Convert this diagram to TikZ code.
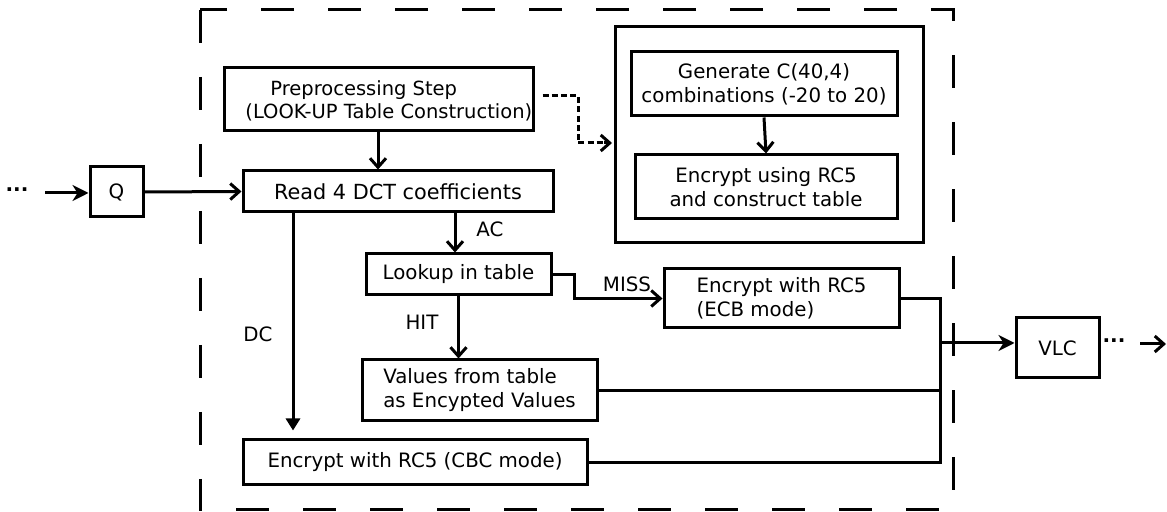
\documentclass[tikz,border=0pt]{standalone}
\usepackage{fontspec}
\setmainfont{DejaVu Sans}
\usetikzlibrary{arrows.meta}
\newcommand\bx[7]{\node[box,#6,minimum width={(#4-#2)*0.5pt},minimum height={(#5-#3)*0.5pt}] (#1) at ({(#2+#4)/2},{(#3+#5)/2}) {#7};}
\begin{document}
\begin{tikzpicture}[x=0.5pt,y=-0.5pt,
  lw/.style={line width=1.5pt},
  box/.style={draw,lw,inner sep=0pt,font=\fontsize{9.9}{12}\selectfont},
  txt/.style={inner sep=0pt,font=\fontsize{9.9}{12}\selectfont},
  openarr/.style={lw,-{Straight Barb[length=4.5pt,width=8pt,line width=1.5pt]}},
  fillarr/.style={lw,-{Stealth[length=8pt,width=8pt,inset=2.5pt]}},
  triarr/.style={lw,-{Triangle[length=6pt,width=7pt]}},
  outer/.style={lw,dash pattern=on 16.5pt off 17pt},
  dotline/.style={lw,dash pattern=on 3pt off 1.6pt}]
\useasboundingbox (0,0) rectangle (1167,512);
% outer dashed frame
\draw[outer] (200,10) rectangle (953,510);
% boxes
\bx{pre}{224}{68}{533}{131}{}{}
\node[txt,align=left,anchor=west,font=\fontsize{9.75}{11.5}\selectfont] (pretext) at (245,101) {\hspace*{12.5pt}Preprocessing Step\\(LOOK-UP Table Construction)};
\bx{big}{615}{27}{923}{243}{}{}
\bx{gen}{631}{52}{897}{116}{align=center}{Generate C(40,4)\\combinations (-20 to 20)}
\bx{enc}{635}{155}{897}{219}{align=center}{Encrypt using RC5\\and construct table}
\bx{read}{243}{171}{553}{212}{font=\fontsize{10.4}{12}\selectfont}{Read 4 DCT coefficients}
\bx{q}{90}{167}{143}{217}{}{Q}
\bx{look}{366}{254}{551}{295}{}{Lookup in table}
\bx{ecb}{664}{269}{899}{328}{align=left}{Encrypt with RC5\\(ECB mode)}
\bx{val}{362}{360}{597}{421}{align=left}{Values from table\\as Encypted Values}
\bx{cbc}{243}{440}{587}{485}{}{Encrypt with RC5 (CBC mode)}
\bx{vlc}{1016}{318}{1099}{378}{}{VLC}
% dots and labels
\node[txt,font=\bfseries] (din) at (17,190) {...};
\node[txt,font=\bfseries] (dout) at (1114,341) {...};
\node[txt] (lac) at (490,229) {AC};
\node[txt] (lmiss) at (627,284) {MISS};
\node[txt] (lhit) at (422,322) {HIT};
\node[txt] (ldc) at (258,334) {DC};
% coordinates
\coordinate (inS) at (45,193);
\coordinate (dA) at (578,96);
\coordinate (dB) at (578,143);
\coordinate (dC) at (612,143);
\coordinate (dcx) at (293,0);
\coordinate (acx) at (455,0);
\coordinate (m) at (940,343);
\coordinate (o1) at (1140,344);
\coordinate (o2) at (1166,344);
% connectors
\draw[fillarr] (inS) -- (q.west |- inS);
\draw[openarr] (q.east) -- (read.west);
\draw[openarr] (pre.south -| 378,0) -- (read.north -| 378,0);
\draw[dotline] ([xshift=4pt]pre.east |- dA) -- (dA) -- (dB) -- ([xshift=-4pt]dC);
\draw[openarr] ([xshift=-4pt]dC) -- (dC);
\draw[openarr] (gen.south) -- (enc.north);
\draw[openarr] (acx |- read.south) -- (acx |- look.north);
\draw[openarr] (look.east) -- ++(11pt,0) |- (ecb.west);
\draw[openarr] (look.south) -- (look.south |- val.north);
\draw[triarr] (dcx |- read.south) -- ([yshift=4pt]dcx |- cbc.north);
\draw[lw] (ecb.east) -- (ecb.east -| m) -- (m |- cbc.east) -- (cbc.east);
\draw[lw] (val.east) -- (val.east -| m);
\draw[fillarr] (m) -- (vlc.west |- m);
\draw[openarr] (o1) -- (o2);
\end{tikzpicture}
\end{document}
